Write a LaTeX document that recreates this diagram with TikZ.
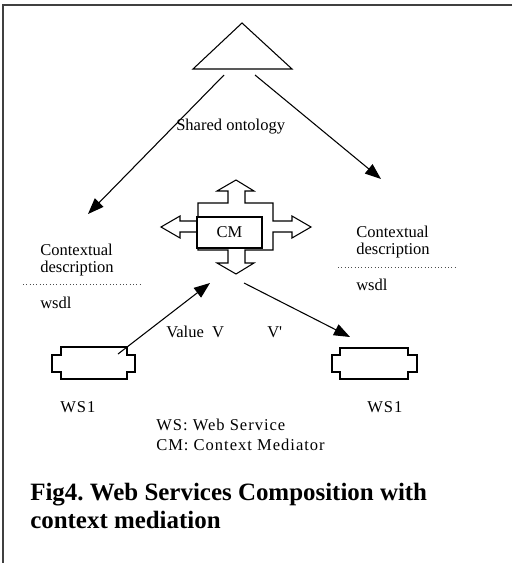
\documentclass[tikz,border=0pt]{standalone}
\usepackage{fontspec}
\setmainfont{Liberation Serif}
\usepackage{tikz}
\usetikzlibrary{arrows.meta}
\frenchspacing

\tikzset{
  lbl/.style={inner sep=0pt,anchor=base west,font=\fontsize{12.4pt}{15pt}\selectfont},
  lblsp/.style={lbl,font=\fontsize{12.4pt}{15pt}\selectfont\addfontfeatures{LetterSpace=6}},
  capt/.style={inner sep=0pt,anchor=base west,font=\fontsize{18.7pt}{22pt}\selectfont\bfseries},
  arr/.style={line width=0.8pt,-{Triangle[length=12pt,width=9pt]}},
  shp/.style={line width=0.8pt,fill=white},
}

\begin{document}
\begin{tikzpicture}[x=0.75pt,y=0.75pt,yscale=-1,xscale=1]
\useasboundingbox (0,0) rectangle (512,563);

%Frame
\draw[line width=1.2pt,black!75] (512,5) -- (3,5) -- (3,563);

%Shape: Triangle [shared ontology]
\draw[shp] (242,23) -- (292,69) -- (193,69) -- cycle;
\coordinate (ontoL) at (224,75);
\coordinate (ontoR) at (255,75);
\coordinate (descL) at (88,214);
\coordinate (descR) at (381,179);
\draw[arr] (ontoL) -- (descL);
\draw[arr] (ontoR) -- (descR);

% Text Node
\node[lbl] (onto) at (176,131) {Shared ontology};

%Shape: Four way arrow [mediator]
\draw[shp] (228,203) -- (228,191) -- (217,191) -- (236,180) -- (254,191) -- (245,191) -- (245,203)
  -- (273,203) -- (273,221) -- (292,221) -- (292,216) -- (311,227) -- (292,238) -- (292,232) -- (273,232)
  -- (273,250) -- (245,250) -- (245,263) -- (254,263) -- (236,274) -- (217,263) -- (228,263) -- (228,250)
  -- (198,250) -- (198,232) -- (180,232) -- (180,238) -- (161,227) -- (180,216) -- (180,221) -- (198,221)
  -- (198,203) -- cycle;
%Shape: Rectangle [CM]
\node[shp,draw,minimum width=48.75pt,minimum height=23.25pt,inner sep=0pt,
  font=\fontsize{12.4pt}{15pt}\selectfont] (cm) at (229.5,232.5) {CM};

% Text Node
\node[lbl] (ctxL) at (40,255) {Contextual};
\node[lbl] (dscL) at (40,272) {description};
\draw[dotted,line width=0.5pt,black!70] (23,284) -- (140,284);
\node[lbl] (wsdlL) at (40,308) {wsdl};

% Text Node
\node[lbl] (ctxR) at (356,237) {Contextual};
\node[lbl] (dscR) at (356,254) {description};
\draw[dotted,line width=0.5pt,black!70] (338,267) -- (456,267);
\node[lbl] (wsdlR) at (356,290) {wsdl};

%Shape: Web service boxes
\draw[shp] (61,347) -- (127,347) -- (127,355) -- (135,355) -- (135,372) -- (127,372) -- (127,379)
  -- (61,379) -- (61,372) -- (52,372) -- (52,355) -- (61,355) -- cycle;
\draw[shp] (340,348) -- (408,348) -- (408,355) -- (417,355) -- (417,372) -- (408,372) -- (408,379)
  -- (340,379) -- (340,372) -- (332,372) -- (332,355) -- (340,355) -- cycle;

\coordinate (valOut) at (118,354);
\coordinate (valIn) at (210,283);
\coordinate (vpOut) at (244,283);
\coordinate (vpIn) at (350,337);
\draw[arr] (valOut) -- (valIn);
\draw[arr] (vpOut) -- (vpIn);

% Text Node
\node[lbl] (val) at (166,337) {Value\ \ V};
\node[lbl] (vp) at (267,337) {V\textquotesingle};
\node[lblsp] (ws1L) at (60,412) {WS1};
\node[lblsp] (ws1R) at (367,412) {WS1};
\node[lblsp] (leg1) at (156,430) {WS: Web Service};
\node[lblsp] (leg2) at (156,450) {CM: Context Mediator};

% Caption
\node[capt] (cap1) at (30,500) {Fig4. Web Services Composition with};
\node[capt] (cap2) at (30,528) {context mediation};
\end{tikzpicture}
\end{document}
